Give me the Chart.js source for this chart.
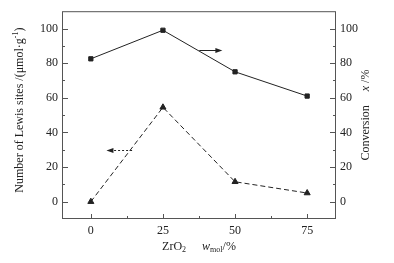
<!DOCTYPE html>
<html>
<head>
<meta charset="utf-8">
<script src="https://cdn.jsdelivr.net/npm/chart.js@4/dist/chart.umd.min.js"></script>
<style>
  html, body { margin: 0; padding: 0; background: #fff; }
  #wrap { width: 394px; height: 263px; }
</style>
</head>
<body>
<div id="wrap"><canvas id="chart" width="394" height="263"></canvas></div>
<script>
// Data
const zro2 = [0, 25, 50, 75];
const lewisSites = [0, 54.5, 11.5, 5];
const conversion = [82.5, 99, 75, 61];
const xTicks = [0, 25, 50, 75];
const xMinor = [12.5, 37.5, 62.5];
const yTicks = [0, 20, 40, 60, 80, 100];
const yMinor = [10, 30, 50, 70, 90];

const ink = '#222';
const font = 'Liberation Serif';

// Arrows pointing to each series' axis (in data units)
const arrowConv = { from: 37.6, to: 45.6, y: 87.5, dashed: false };
const arrowLewis = { from: 14.3, to: 5.4, y: 29.8, dashed: true };

function fixTicks(list) {
  return scale => { scale.ticks = list.map(v => ({ value: v })); };
}

const framePlugin = {
  id: 'frame',
  afterDraw(chart) {
    const ctx = chart.ctx;
    const a = chart.chartArea;
    const sx = chart.scales.x, sy = chart.scales.y, sy1 = chart.scales.y1;
    ctx.save();
    ctx.strokeStyle = '#555';
    ctx.lineWidth = 1;
    ctx.strokeRect(a.left + 0.5, a.top + 0.5, a.right - a.left - 1, a.bottom - a.top - 1);

    ctx.beginPath();
    xTicks.forEach(v => { const p = Math.round(sx.getPixelForValue(v)) + 0.5; ctx.moveTo(p, a.bottom); ctx.lineTo(p, a.bottom - 5); });
    xMinor.forEach(v => { const p = Math.round(sx.getPixelForValue(v)) + 0.5; ctx.moveTo(p, a.bottom); ctx.lineTo(p, a.bottom - 3); });
    yTicks.forEach(v => {
      const p = Math.round(sy.getPixelForValue(v)) + 0.5;
      ctx.moveTo(a.left, p); ctx.lineTo(a.left + 6, p);
      const q = Math.round(sy1.getPixelForValue(v)) + 0.5;
      ctx.moveTo(a.right, q); ctx.lineTo(a.right - 6, q);
    });
    yMinor.forEach(v => {
      const p = Math.round(sy.getPixelForValue(v)) + 0.5;
      ctx.moveTo(a.left, p); ctx.lineTo(a.left + 3, p);
      const q = Math.round(sy1.getPixelForValue(v)) + 0.5;
      ctx.moveTo(a.right, q); ctx.lineTo(a.right - 3, q);
    });
    ctx.stroke();

    // arrows
    [[arrowConv, sy1], [arrowLewis, sy]].forEach(([ar, ys]) => {
      const x0 = sx.getPixelForValue(ar.from), x1 = sx.getPixelForValue(ar.to);
      const y = Math.round(ys.getPixelForValue(ar.y)) + 0.5;
      const dir = Math.sign(x1 - x0);
      ctx.strokeStyle = ink;
      ctx.fillStyle = ink;
      ctx.setLineDash(ar.dashed ? [2, 2] : []);
      ctx.beginPath();
      ctx.moveTo(x0, y); ctx.lineTo(x1 - dir * 6, y);
      ctx.stroke();
      ctx.setLineDash([]);
      ctx.beginPath();
      ctx.moveTo(x1, y);
      ctx.lineTo(x1 - dir * 7, y - 2.5);
      ctx.lineTo(x1 - dir * 7, y + 2.5);
      ctx.closePath();
      ctx.fill();
    });

    // axis titles
    ctx.fillStyle = ink;
    ctx.textBaseline = 'middle';
    const base = '12px "' + font + '"';
    const small = '8px "' + font + '"';
    const ital = 'italic 12px "' + font + '"';

    function runs(parts, cx, cy, rot) {
      ctx.save();
      ctx.translate(cx, cy);
      ctx.rotate(rot);
      let total = 0;
      parts.forEach(p => { ctx.font = p.f; total += ctx.measureText(p.t).width + (p.gap || 0); });
      let x = -total / 2;
      parts.forEach(p => {
        ctx.font = p.f;
        ctx.textAlign = 'left';
        ctx.fillText(p.t, x, p.dy || 0);
        x += ctx.measureText(p.t).width + (p.gap || 0);
      });
      ctx.restore();
    }

    runs([
      { t: 'Number of Lewis sites /(μmol·g', f: base },
      { t: '-1', f: small, dy: -4 },
      { t: ')', f: base }
    ], 20, (a.top + a.bottom) / 2 - 5, -Math.PI / 2);

    runs([
      { t: 'Conversion', f: base, gap: 14 },
      { t: 'x', f: ital },
      { t: ' /%', f: base }
    ], 366, (a.top + a.bottom) / 2, -Math.PI / 2);

    runs([
      { t: 'ZrO', f: base },
      { t: '2', f: small, dy: 3, gap: 16 },
      { t: 'w', f: ital },
      { t: 'mol', f: small, dy: 3 },
      { t: '/%', f: base }
    ], (a.left + a.right) / 2, 247, 0);

    ctx.restore();
  }
};

new Chart(document.getElementById('chart'), {
  type: 'scatter',
  data: {
    datasets: [
      {
        label: 'Conversion',
        data: zro2.map((x, i) => ({ x, y: conversion[i] })),
        yAxisID: 'y1',
        showLine: true,
        borderColor: ink,
        backgroundColor: ink,
        borderWidth: 1,
        pointStyle: 'rect',
        pointRadius: 3,
        pointHoverRadius: 3
      },
      {
        label: 'Lewis sites',
        data: zro2.map((x, i) => ({ x, y: lewisSites[i] })),
        yAxisID: 'y',
        showLine: true,
        borderColor: ink,
        backgroundColor: ink,
        borderWidth: 1,
        borderDash: [5, 3],
        pointStyle: 'triangle',
        pointRadius: 3.5,
        pointHoverRadius: 3.5
      }
    ]
  },
  options: {
    responsive: false,
    animation: false,
    layout: { padding: { top: 11, left: 0, right: 0, bottom: 0 } },
    plugins: { legend: { display: false }, tooltip: { enabled: false } },
    scales: {
      x: {
        type: 'linear', min: -10, max: 85,
        afterBuildTicks: fixTicks(xTicks),
        afterFit: s => { s.height = 44; },
        grid: { display: false, drawTicks: false },
        border: { display: false },
        ticks: { color: ink, font: { family: font, size: 12 }, padding: 5 }
      },
      y: {
        position: 'left', min: -10, max: 110,
        afterBuildTicks: fixTicks(yTicks),
        afterFit: s => { s.width = 62; },
        grid: { display: false, drawTicks: false },
        border: { display: false },
        ticks: { color: ink, font: { family: font, size: 12 }, padding: 4 }
      },
      y1: {
        position: 'right', min: -10, max: 110,
        afterBuildTicks: fixTicks(yTicks),
        afterFit: s => { s.width = 58; },
        grid: { display: false, drawTicks: false },
        border: { display: false },
        ticks: { color: ink, font: { family: font, size: 12 }, padding: 4 }
      }
    }
  },
  plugins: [framePlugin]
});
</script>
</body>
</html>
